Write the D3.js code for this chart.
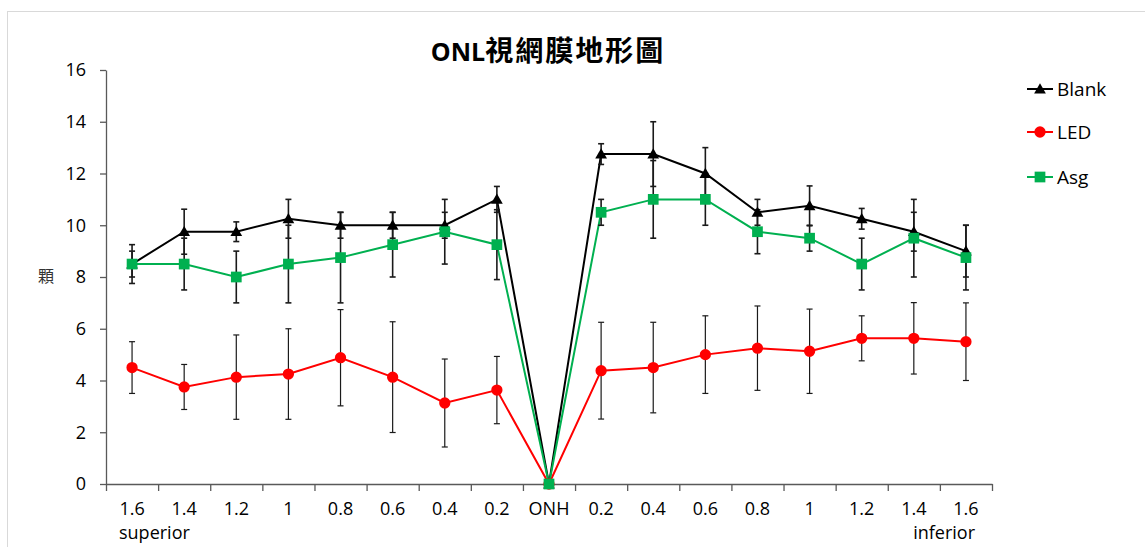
<!DOCTYPE html>
<html>
<head>
<meta charset="utf-8">
<script src="https://cdn.jsdelivr.net/npm/d3@7"></script>
<style>
    body { margin: 0; background: #fff; }
    svg { display: block; font-family: "Open Sans", "Noto Sans CJK TC", sans-serif; }
</style>
</head>
<body>
<div id="chart"></div>
<script>
// x positions (retina distance from ONH, mm)
const tickLabels = ["1.6", "1.4", "1.2", "1", "0.8", "0.6", "0.4", "0.2", "ONH",
                    "0.2", "0.4", "0.6", "0.8", "1", "1.2", "1.4", "1.6"];

// mean values
const blankValues = [8.5, 9.75, 9.75, 10.25, 10, 10, 10, 11, 0, 12.75, 12.75, 12, 10.5, 10.75, 10.25, 9.75, 9];
const ledValues   = [4.5, 3.75, 4.13, 4.25, 4.88, 4.13, 3.13, 3.63, 0, 4.38, 4.5, 5, 5.25, 5.13, 5.63, 5.63, 5.5];
const asgValues   = [8.5, 8.5, 8, 8.5, 8.75, 9.25, 9.75, 9.25, 0, 10.5, 11, 11, 9.75, 9.5, 8.5, 9.5, 8.75];

// error bar sizes (+/-)
const blankErrors = [0.75, 0.87, 0.38, 0.75, 0.5, 0.5, 0.5, 0.5, 0, 0.4, 1.25, 1, 0.5, 0.77, 0.4, 0.75, 1];
const ledErrors   = [1, 0.87, 1.63, 1.75, 1.86, 2.14, 1.7, 1.3, 0, 1.87, 1.75, 1.5, 1.63, 1.63, 0.87, 1.38, 1.5];
const asgErrors   = [0.5, 1, 1, 1.5, 1.75, 1.25, 1.25, 1.35, 0, 0.5, 1.5, 1, 0.85, 0.5, 1, 1.5, 1.25];

const yTicks = [0, 2, 4, 6, 8, 10, 12, 14, 16];

const series = [
    { name: "Blank", values: blankValues, errors: blankErrors, color: "#000000", marker: "triangle", barWidth: 1.6 },
    { name: "LED",   values: ledValues,   errors: ledErrors,   color: "#ff0000", marker: "circle",   barWidth: 1.2 },
    { name: "Asg",   values: asgValues,   errors: asgErrors,   color: "#00b050", marker: "square",   barWidth: 1.6 }
];

const width = 1145, height = 547;
const plot = { left: 106, right: 992, top: 70, bottom: 484 };

const svg = d3.select("#chart").append("svg")
    .attr("width", width)
    .attr("height", height);

// chart frame
svg.append("rect")
    .attr("x", 7.5).attr("y", 11.5)
    .attr("width", width).attr("height", height)
    .attr("fill", "none")
    .attr("stroke", "#d9d9d9");

// scales
const x = d3.scaleBand()
    .domain(d3.range(tickLabels.length))
    .range([plot.left, plot.right]);

const xEdge = d3.scaleLinear()
    .domain([0, tickLabels.length])
    .range([plot.left, plot.right]);

const y = d3.scaleLinear()
    .domain([0, 16])
    .range([plot.bottom, plot.top]);

const cx = i => x(i) + x.bandwidth() / 2;

// y axis
const yAxis = svg.append("g")
    .attr("transform", `translate(${plot.left},0)`)
    .call(d3.axisLeft(y).tickValues(yTicks).tickSize(6).tickPadding(14).tickSizeOuter(0));

yAxis.select(".domain").attr("stroke", "#595959").attr("stroke-width", 1.3);
yAxis.selectAll(".tick line").attr("stroke", "#595959").attr("stroke-width", 1.3);
yAxis.selectAll("text")
    .style("font-size", "18px")
    .style("font-family", "Open Sans")
    .attr("fill", "#000");

// x axis: ticks on category edges
const xAxis = svg.append("g")
    .attr("transform", `translate(0,${plot.bottom})`)
    .call(d3.axisBottom(xEdge).tickValues(d3.range(tickLabels.length + 1)).tickSize(7).tickFormat("").tickSizeOuter(0));

xAxis.select(".domain").attr("stroke", "#595959").attr("stroke-width", 1.3);
xAxis.selectAll(".tick line").attr("stroke", "#595959").attr("stroke-width", 1.3);

// x labels centered in each category
const xLabels = svg.append("g")
    .attr("transform", `translate(0,${plot.bottom})`)
    .call(d3.axisBottom(x).tickSize(0).tickPadding(18).tickFormat(i => tickLabels[i]));

xLabels.select(".domain").remove();
xLabels.selectAll("text")
    .style("font-size", "18px")
    .style("font-family", "Open Sans")
    .attr("fill", "#000");

svg.append("text")
    .attr("x", 119).attr("y", 539)
    .style("font-size", "18px")
    .text("superior");

svg.append("text")
    .attr("x", 975).attr("y", 539)
    .attr("text-anchor", "end")
    .style("font-size", "18px")
    .text("inferior");

// y axis label
svg.append("text")
    .attr("x", 46).attr("y", 278)
    .attr("text-anchor", "middle")
    .attr("dominant-baseline", "middle")
    .style("font-family", "Noto Sans CJK TC")
    .style("font-size", "16px")
    .attr("fill", "#333")
    .text("顆");

// title
const title = svg.append("text")
    .attr("x", 548).attr("y", 61)
    .attr("text-anchor", "middle")
    .style("font-weight", "bold");
title.append("tspan").style("font-size", "25px").style("font-family", "Open Sans").text("ONL");
title.append("tspan").style("font-size", "28px").style("font-family", "Noto Sans CJK TC")
    .attr("letter-spacing", "2px").text("視網膜地形圖");

// marker shapes
const symbols = {
    triangle: d3.symbol().type(d3.symbolTriangle).size(60),
    circle: d3.symbol().type(d3.symbolCircle).size(100),
    square: d3.symbol().type(d3.symbolSquare).size(115)
};

const line = d3.line()
    .x((d, i) => cx(i))
    .y(d => y(d));

// lines first
series.forEach(s => {
    svg.append("path")
        .datum(s.values)
        .attr("fill", "none")
        .attr("stroke", s.color)
        .attr("stroke-width", 2)
        .attr("d", line);
});

// error bars
series.forEach(s => {
    const bars = svg.append("g")
        .attr("stroke", "#1a1a1a")
        .attr("stroke-width", s.barWidth);

    s.values.forEach((v, i) => {
        const e = s.errors[i];
        if (!e) return;
        const top = y(v + e), bot = y(v - e), xc = cx(i);
        bars.append("line").attr("x1", xc).attr("x2", xc).attr("y1", top).attr("y2", bot);
        bars.append("line").attr("x1", xc - 3).attr("x2", xc + 3).attr("y1", top).attr("y2", top);
        bars.append("line").attr("x1", xc - 3).attr("x2", xc + 3).attr("y1", bot).attr("y2", bot);
    });
});

// markers on top
series.forEach(s => {
    svg.append("g").selectAll("path")
        .data(s.values)
        .join("path")
        .attr("d", symbols[s.marker])
        .attr("transform", (d, i) => `translate(${cx(i)},${y(d) + (s.marker === "triangle" ? 1 : 0)})`)
        .attr("fill", s.color);
});

// legend
const legend = svg.append("g");
const legendY = [89, 132, 177];

series.forEach((s, k) => {
    const g = legend.append("g").attr("transform", `translate(0,${legendY[k]})`);
    g.append("line")
        .attr("x1", 1027).attr("x2", 1053)
        .attr("stroke", s.color)
        .attr("stroke-width", 2);
    g.append("path")
        .attr("d", symbols[s.marker])
        .attr("transform", `translate(1040,${s.marker === "triangle" ? 1 : 0})`)
        .attr("fill", s.color);
    g.append("text")
        .attr("x", 1057)
        .attr("dy", "0.35em")
        .style("font-size", "19px")
        .text(s.name);
});
</script>
</body>
</html>
